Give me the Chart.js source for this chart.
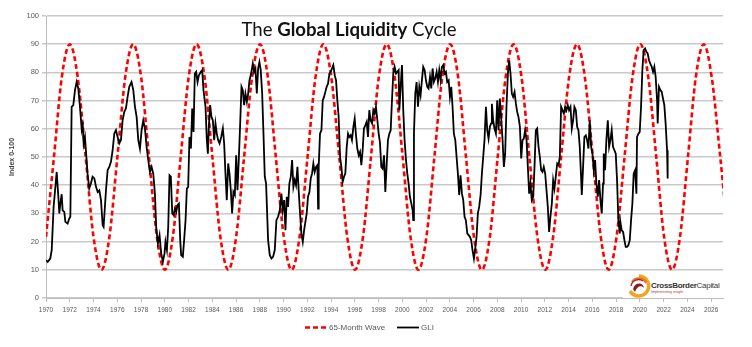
<!DOCTYPE html>
<html>
<head>
<meta charset="utf-8">
<script src="https://cdn.jsdelivr.net/npm/chart.js@4.4.1/dist/chart.umd.min.js"></script>
<style>
  html, body { margin: 0; padding: 0; background: #fff; }
  #wrap { position: relative; width: 752px; height: 347px; overflow: hidden; font-family: 'Liberation Sans', Arial, sans-serif; }
  #wrap canvas { position: absolute; left: 0; top: 0; }
  .title { position: absolute; left: 0; width: 698px; top: 19px; text-align: center; font-family: Lato, 'Open Sans', sans-serif; font-size: 18.6px; line-height: 21px; color: #111; }
  .title b { font-weight: 700; }
  .lg { position: absolute; top: 322px; height: 11px; font-size: 8px; line-height: 11px; color: #595959; white-space: nowrap; }
  .lg svg { position: absolute; top: 0; }
  .logo { position: absolute; left: 623px; top: 274px; width: 101px; height: 24px; background: #fff; }
  .logo .nm { position: absolute; left: 28px; top: 7px; font-size: 8px; letter-spacing: -0.3px; color: #3a3a3a; white-space: nowrap; }
  .logo .nm b { font-weight: 700; color: #333; }
  .logo .sub { position: absolute; left: 28px; top: 16px; font-size: 3.5px; color: #c0392b; white-space: nowrap; }
</style>
</head>
<body>
<div id="wrap">
  <canvas id="chartGli" width="752" height="347"></canvas>
  <div class="title">The <b>Global Liquidity</b> Cycle</div>
  <div class="lg" style="left:305px;">
    <svg width="22" height="11" style="left:0"><line x1="0" y1="5.5" x2="22" y2="5.5" stroke="#ff0000" stroke-width="2.5" stroke-dasharray="5 3"/></svg>
    <span style="position:absolute;left:24px;">65-Month Wave</span>
  </div>
  <div class="lg" style="left:397px;">
    <svg width="22" height="11" style="left:0"><line x1="0" y1="5.5" x2="22" y2="5.5" stroke="#000" stroke-width="1.8"/></svg>
    <span style="position:absolute;left:24px;">GLI</span>
  </div>
  <div class="logo">
    <svg width="26" height="24" style="position:absolute;left:3px;top:0">
      <path d="M13 2 A10 10 0 1 1 4 17" fill="none" stroke="#f5a31a" stroke-width="3.5"/>
      <path d="M6 8 A8 8 0 0 1 20 9" fill="none" stroke="#e8731c" stroke-width="2"/>
      <path d="M7 15 C 9 8, 17 8, 18 14 C 15 11, 11 12, 9 18" fill="#8e1b1b"/>
      <path d="M5 12 C 6 6, 13 4, 17 7" fill="none" stroke="#b22222" stroke-width="1.4"/>
    </svg>
    <div class="nm"><b>CrossBorder</b>Capital</div>
    <div class="sub">Implementing insight</div>
  </div>
</div>
<script>
'use strict';

// ── 데이터 ─────────────────────────────────────────────

var yearTicks = [1970, 1972, 1974, 1976, 1978, 1980, 1982, 1984, 1986, 1988, 1990, 1992, 1994, 1996, 1998,
  2000, 2002, 2004, 2006, 2008, 2010, 2012, 2014, 2016, 2018, 2020, 2022, 2024, 2026];
var indexTicks = [0, 10, 20, 30, 40, 50, 60, 70, 80, 90, 100];

// 65-month wave, read at peaks / troughs / crossings
var waveYears = [1970.00, 1970.67, 1971.33, 1972.00, 1972.67, 1973.34, 1974.00, 1974.67,
  1975.34, 1976.01, 1976.67, 1977.34, 1978.01, 1978.67, 1979.34, 1980.01,
  1980.68, 1981.34, 1982.01, 1982.68, 1983.35, 1984.01, 1984.68, 1985.35,
  1986.01, 1986.68, 1987.35, 1988.02, 1988.68, 1989.35, 1990.02, 1990.68,
  1991.35, 1992.02, 1992.69, 1993.35, 1994.02, 1994.69, 1995.36, 1996.02,
  1996.69, 1997.36, 1998.02, 1998.69, 1999.36, 2000.03, 2000.69, 2001.36,
  2002.03, 2002.70, 2003.36, 2004.03, 2004.70, 2005.36, 2006.03, 2006.70,
  2007.37, 2008.03, 2008.70, 2009.37, 2010.04, 2010.70, 2011.37, 2012.04,
  2012.70, 2013.37, 2014.04, 2014.71, 2015.37, 2016.04, 2016.71, 2017.37,
  2018.04, 2018.71, 2019.38, 2020.04, 2020.71, 2021.38, 2022.04, 2022.71,
  2023.38, 2024.05, 2024.71, 2025.38, 2026.05, 2026.72, 2027.38];
var waveValues = [21.7, 50, 78.3, 90, 78.3, 50, 21.7, 10,
  21.7, 50, 78.3, 90, 78.3, 50, 21.7, 10,
  21.7, 50, 78.3, 90, 78.3, 50, 21.7, 10,
  21.7, 50, 78.3, 90, 78.3, 50, 21.7, 10,
  21.7, 50, 78.3, 90, 78.3, 50, 21.7, 10,
  21.7, 50, 78.3, 90, 78.3, 50, 21.7, 10,
  21.7, 50, 78.3, 90, 78.3, 50, 21.7, 10,
  21.7, 50, 78.3, 90, 78.3, 50, 21.7, 10,
  21.7, 50, 78.3, 90, 78.3, 50, 21.7, 10,
  21.7, 50, 78.3, 90, 78.3, 50, 21.7, 10,
  21.7, 50, 78.3, 90, 78.3, 52, 24];

// GLI [year, index]
var gliSeries = [
  [1970.00,13.4],[1970.14,12.8],[1970.36,14.0],[1970.48,17.0],[1970.64,32.3],[1970.84,41.8],[1970.90,44.7],[1971.04,35.9],
  [1971.12,30.0],[1971.21,33.5],[1971.32,36.8],[1971.40,31.1],[1971.54,30.5],[1971.63,27.0],[1971.82,26.4],[1971.96,28.2],
  [1972.05,28.8],[1972.16,67.8],[1972.30,68.4],[1972.44,73.7],[1972.58,76.6],[1972.72,74.3],[1972.86,67.8],[1973.00,60.1],
  [1973.08,62.5],[1973.17,54.8],[1973.28,57.1],[1973.36,52.4],[1973.50,44.1],[1973.64,38.8],[1973.78,40.6],[1973.92,43.0],
  [1974.07,42.4],[1974.21,39.4],[1974.35,37.6],[1974.49,38.2],[1974.63,34.7],[1974.77,25.8],[1974.85,25.2],[1975.05,38.2],
  [1975.19,45.4],[1975.33,46.5],[1975.47,48.3],[1975.61,52.4],[1975.75,58.3],[1975.89,59.5],[1976.03,57.1],[1976.17,54.8],
  [1976.31,56.0],[1976.45,63.0],[1976.59,66.0],[1976.73,67.2],[1976.87,71.3],[1977.01,74.9],[1977.20,76.6],[1977.35,73.7],
  [1977.49,67.8],[1977.63,64.2],[1977.77,56.0],[1977.91,53.0],[1978.05,59.5],[1978.19,63.0],[1978.33,60.1],[1978.47,53.6],
  [1978.61,48.9],[1978.75,44.7],[1978.89,46.5],[1979.03,44.1],[1979.17,37.0],
  [1979.28,25.0],[1979.42,19.3],[1979.56,22.3],[1979.70,15.8],[1979.84,12.8],[1979.98,15.8],[1980.06,19.9],[1980.18,17.0],
  [1980.29,25.2],[1980.40,43.5],[1980.51,43.0],[1980.63,30.0],[1980.74,29.4],[1980.85,31.7],[1980.96,30.5],[1981.07,32.9],
  [1981.19,33.5],[1981.30,20.5],[1981.38,15.2],[1981.52,14.6],[1981.63,20.5],[1981.75,27.6],[1981.86,38.8],[1981.97,39.4],
  [1982.08,57.1],[1982.20,53.0],[1982.31,67.2],[1982.42,58.9],[1982.53,79.6],[1982.64,80.2],[1982.76,76.6],[1982.87,79.0],
  [1983.04,80.2],[1983.15,80.8],[1983.26,73.7],[1983.43,67.8],[1983.54,56.0],[1983.63,51.2],[1983.71,60.7],[1983.82,68.4],
  [1983.93,64.2],[1984.05,63.0],[1984.16,56.0],[1984.27,61.9],[1984.38,58.3],[1984.49,56.0],[1984.61,54.8],[1984.75,57.1],
  [1984.89,60.1],[1985.00,54.8],[1985.11,44.1],[1985.22,34.7],[1985.34,47.7],[1985.45,44.1],[1985.56,38.2],[1985.67,30.0],
  [1985.78,37.6],[1985.90,36.5],[1986.01,50.6],[1986.12,38.2],[1986.23,48.9],[1986.34,60.7],[1986.46,74.9],[1986.57,73.7],
  [1986.68,68.4],[1986.79,72.5],[1986.91,69.6],[1987.02,72.5],[1987.13,77.2],[1987.27,79.6],[1987.41,83.1],[1987.52,80.2],
  [1987.63,81.4],[1987.75,72.5],[1987.86,81.4],[1987.97,83.7],[1988.08,80.8],[1988.20,72.5],[1988.31,58.3],[1988.42,43.0],
  [1988.53,40.6],[1988.64,27.6],
  [1988.70,20.5],[1988.84,15.2],[1988.98,14.0],[1989.12,14.6],[1989.26,17.0],[1989.40,27.6],[1989.54,28.8],[1989.68,31.1],
  [1989.82,37.0],[1989.93,31.1],[1990.05,34.7],[1990.16,24.0],[1990.27,35.9],[1990.38,32.3],[1990.49,40.6],[1990.61,43.0],
  [1990.72,48.9],[1990.83,39.4],[1990.94,41.8],[1991.05,40.0],[1991.17,46.5],[1991.28,37.6],[1991.39,30.0],[1991.50,22.9],
  [1991.62,19.9],[1991.73,24.0],[1991.84,27.0],[1991.95,30.0],[1992.06,35.9],[1992.18,37.6],[1992.29,42.4],[1992.40,44.1],
  [1992.51,47.7],[1992.62,44.7],[1992.74,46.5],[1992.85,47.1],[1992.91,31.7],[1992.96,46.5],[1993.07,58.3],[1993.19,59.5],
  [1993.30,70.1],[1993.41,71.3],[1993.52,73.1],[1993.63,74.9],[1993.75,76.1],[1993.86,79.6],[1993.97,80.2],[1994.08,81.4],
  [1994.19,82.6],[1994.31,79.0],[1994.42,77.2],[1994.53,70.1],[1994.64,64.2],[1994.76,50.0],[1994.87,46.5],[1994.98,41.2],
  [1995.09,43.0],[1995.20,44.1],[1995.32,53.6],[1995.43,58.3],[1995.54,57.1],[1995.65,57.7],[1995.76,56.0],[1995.88,60.7],
  [1995.99,63.6],[1996.10,57.7],[1996.21,53.0],[1996.33,50.6],[1996.44,51.8],[1996.55,47.1],[1996.66,52.4],[1996.77,60.1],
  [1996.89,61.3],[1997.00,62.5],[1997.11,57.1],[1997.22,66.6],[1997.33,63.0],[1997.45,61.9],[1997.56,66.6],[1997.67,65.4],
  [1997.78,67.8],[1997.90,63.0],[1998.01,58.3],
  [1998.12,55.0],[1998.23,46.5],[1998.34,45.9],[1998.46,50.6],[1998.57,37.6],[1998.68,47.1],[1998.79,56.0],[1998.91,58.3],
  [1999.02,59.5],[1999.13,70.1],[1999.24,79.6],[1999.35,82.0],[1999.47,79.6],[1999.58,80.2],[1999.69,80.8],[1999.75,66.6],
  [1999.86,74.9],[1999.97,82.6],[2000.08,66.6],[2000.19,56.0],[2000.31,48.9],[2000.42,44.1],[2000.53,40.6],[2000.64,35.9],
  [2000.76,33.5],[2000.87,31.1],[2000.92,27.6],[2000.98,58.3],[2001.09,72.5],[2001.20,76.6],[2001.32,67.8],[2001.43,74.9],
  [2001.54,72.0],[2001.65,77.2],[2001.76,82.0],[2001.88,80.8],[2001.99,77.2],[2002.10,74.9],[2002.21,74.3],[2002.33,78.4],
  [2002.44,74.3],[2002.55,81.4],[2002.66,76.6],[2002.77,77.8],[2002.89,80.2],[2003.00,76.6],[2003.11,80.8],[2003.22,77.2],
  [2003.33,82.0],[2003.45,82.6],[2003.56,79.6],[2003.67,80.2],[2003.78,76.6],[2003.90,77.2],[2004.01,71.3],[2004.12,74.9],
  [2004.23,67.8],[2004.34,58.3],[2004.46,56.0],[2004.57,50.0],[2004.68,44.1],[2004.79,36.5],[2004.90,43.5],[2005.02,37.0],
  [2005.13,34.7],[2005.24,28.8],[2005.35,27.6],[2005.47,22.9],[2005.58,22.3],[2005.69,21.7],[2005.80,20.5],[2005.91,17.0],
  [2006.03,14.0],[2006.14,17.6],[2006.25,21.7],[2006.36,30.0],[2006.47,32.3],[2006.59,36.5],[2006.70,44.1],[2006.81,50.0],
  [2006.92,56.0],[2007.04,67.8],[2007.15,59.5],[2007.26,56.5],[2007.37,60.7],[2007.48,61.9],
  [2007.54,68.9],[2007.65,63.0],[2007.76,60.1],[2007.88,58.3],[2007.99,70.1],[2008.10,59.5],[2008.21,70.7],[2008.32,64.2],
  [2008.44,56.0],[2008.55,46.5],[2008.66,51.2],[2008.77,67.8],[2008.89,79.6],[2009.00,84.3],[2009.11,79.6],[2009.22,72.5],
  [2009.33,71.3],[2009.45,73.1],[2009.56,69.0],[2009.67,66.0],[2009.78,64.2],[2009.90,60.7],[2010.01,49.5],[2010.12,56.0],
  [2010.23,56.5],[2010.34,59.5],[2010.46,56.0],[2010.57,46.5],[2010.68,37.0],[2010.79,40.6],[2010.90,34.7],[2011.02,35.9],
  [2011.13,46.5],[2011.24,59.5],[2011.35,60.1],[2011.47,53.6],[2011.58,50.0],[2011.69,45.3],[2011.80,44.7],[2011.91,46.5],
  [2012.03,44.1],[2012.14,38.2],[2012.25,32.3],[2012.36,23.4],[2012.47,28.8],[2012.59,33.5],[2012.70,41.8],[2012.81,38.8],
  [2012.92,43.0],[2013.04,47.7],[2013.15,47.1],[2013.26,50.0],[2013.37,67.8],[2013.48,66.6],[2013.60,65.4],[2013.71,67.8],
  [2013.82,66.6],[2013.93,68.4],[2014.04,66.6],[2014.16,67.8],[2014.27,60.1],[2014.38,63.0],[2014.49,67.8],[2014.61,66.6],
  [2014.72,60.7],[2014.83,59.5],[2014.94,53.6],[2015.05,43.0],[2015.11,36.5],[2015.22,46.5],[2015.33,57.1],[2015.45,57.7],
  [2015.56,56.0],[2015.67,53.0],[2015.78,63.0],[2015.90,53.6],[2016.01,51.2],[2016.12,45.3],[2016.23,48.9],[2016.34,40.6],
  [2016.46,35.9],[2016.57,41.8],[2016.68,34.7],[2016.79,30.0],[2016.90,40.6],
  [2016.96,51.2],[2017.07,45.3],[2017.18,56.0],[2017.30,63.0],[2017.41,53.6],[2017.52,56.0],[2017.63,59.5],[2017.74,53.6],
  [2017.86,52.4],[2017.97,51.2],[2018.08,41.8],[2018.19,27.6],[2018.31,22.9],[2018.36,27.0],[2018.47,24.0],[2018.59,23.4],
  [2018.70,20.5],[2018.81,18.1],[2018.92,18.1],[2019.03,18.7],[2019.15,20.5],[2019.26,27.6],[2019.37,33.5],[2019.48,44.1],
  [2019.60,45.3],[2019.71,37.0],[2019.76,57.1],[2019.88,58.3],[2019.99,58.9],[2020.10,67.8],[2020.21,80.8],[2020.32,87.9],
  [2020.44,88.5],[2020.55,87.3],[2020.66,86.7],[2020.77,84.3],[2020.88,83.1],[2021.00,82.0],[2021.11,80.2],[2021.22,82.0],
  [2021.33,78.4],[2021.45,70.1],[2021.50,61.9],[2021.61,74.9],[2021.73,73.7],[2021.84,73.1],[2021.95,70.7],[2022.06,68.4],
  [2022.17,61.9],[2022.29,52.4],[2022.34,42.4]
];

// ── 차트 ───────────────────────────────────────────────

Chart.defaults.font.family = "'Liberation Sans', Arial, sans-serif";

var wavePoints = waveYears.map(function (x, i) { return { x: x, y: waveValues[i] }; });
var gliPoints = gliSeries.map(function (p) { return { x: p[0], y: p[1] }; });

var gridGray = '#c9c9c9';
var axisGray = '#bdbdbd';
var labelGray = '#595959';

new Chart(document.getElementById('chartGli').getContext('2d'), {
  type: 'line',
  data: {
    datasets: [
      {
        label: 'GLI',
        data: gliPoints,
        borderColor: '#000',
        borderWidth: 1.8,
        pointRadius: 0,
        tension: 0,
        order: 0
      },
      {
        label: '65-Month Wave',
        data: wavePoints,
        borderColor: '#ff0000',
        borderWidth: 2.6,
        borderDash: [5, 3],
        pointRadius: 0,
        cubicInterpolationMode: 'monotone',
        order: 1
      }
    ]
  },
  options: {
    responsive: false,
    animation: false,
    events: [],
    layout: { padding: { left: 8, right: 29, top: 16, bottom: 0 } },
    plugins: { legend: { display: false }, tooltip: { enabled: false } },
    scales: {
      x: {
        type: 'linear',
        min: 1970,
        max: 2027,
        afterBuildTicks: function (s) { s.ticks = yearTicks.map(function (v) { return { value: v }; }); },
        afterFit: function (s) { s.height = 49; },
        ticks: {
          autoSkip: false, maxRotation: 0, padding: 4,
          color: labelGray, font: { size: 6.5 },
          callback: function (v) { return String(v); }
        },
        grid: { drawOnChartArea: false, tickLength: 4, color: axisGray },
        border: { color: axisGray }
      },
      y: {
        min: 0,
        max: 100,
        afterBuildTicks: function (s) { s.ticks = indexTicks.map(function (v) { return { value: v }; }); },
        afterFit: function (s) { s.width = 38; },
        ticks: { padding: 3, color: labelGray, font: { size: 7.5 } },
        grid: { color: gridGray, lineWidth: 1.5, tickLength: 4 },
        border: { color: axisGray },
        title: { display: true, text: 'Index 0-100', color: '#404040', font: { size: 7, weight: 'bold' }, padding: 0 }
      }
    }
  }
});
</script>
</body>
</html>
